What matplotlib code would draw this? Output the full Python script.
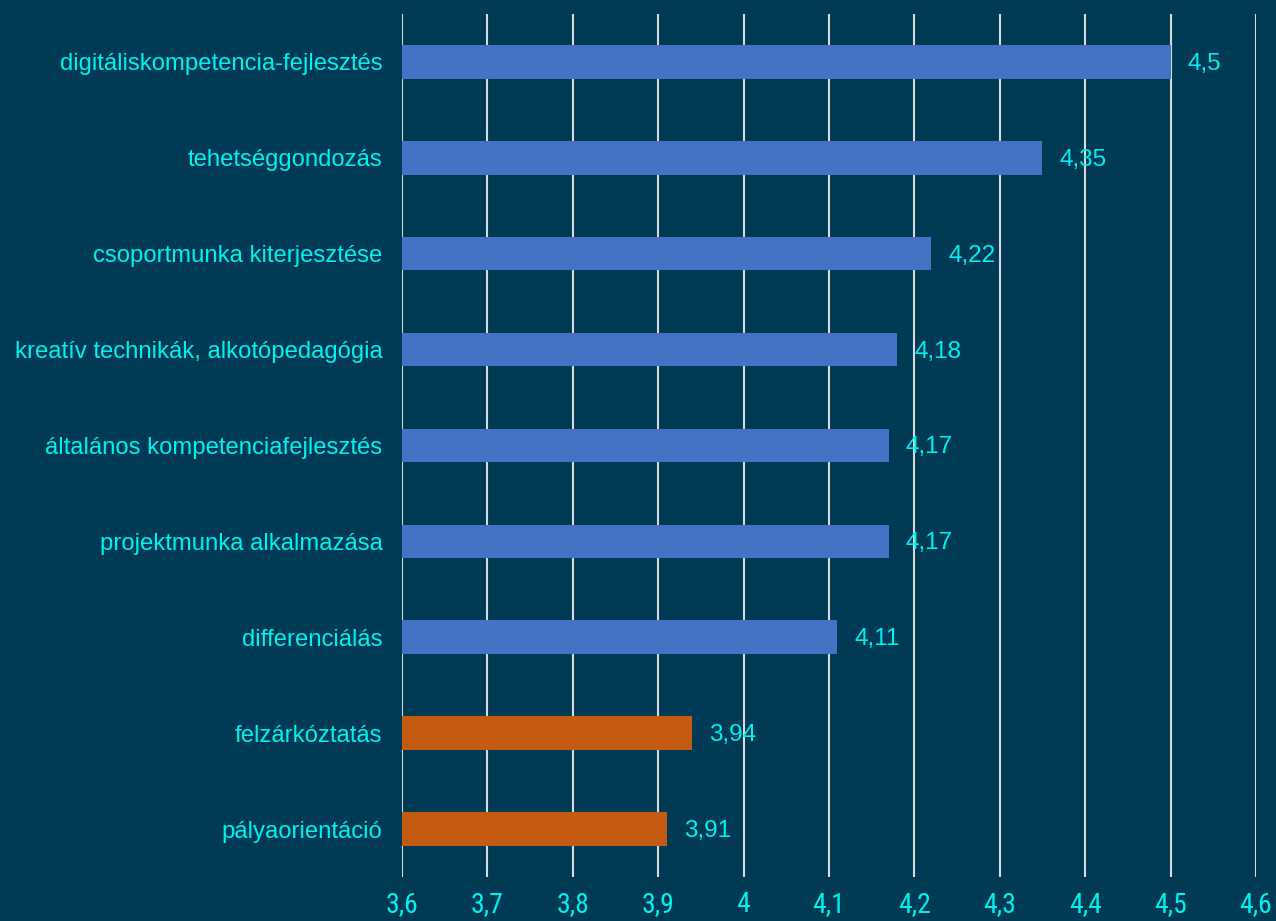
import matplotlib.pyplot as plt
from matplotlib.ticker import FuncFormatter

categories = [
    "digitáliskompetencia-fejlesztés",
    "tehetséggondozás",
    "csoportmunka kiterjesztése",
    "kreatív technikák, alkotópedagógia",
    "általános kompetenciafejlesztés",
    "projektmunka alkalmazása",
    "differenciálás",
    "felzárkóztatás",
    "pályaorientáció",
]
values = [4.5, 4.35, 4.22, 4.18, 4.17, 4.17, 4.11, 3.94, 3.91]
bar_colors = ["#4472C4"] * 7 + ["#C55A11"] * 2
x_ticks = [3.6, 3.7, 3.8, 3.9, 4.0, 4.1, 4.2, 4.3, 4.4, 4.5, 4.6]

BG = "#003A55"
CYAN = "#00F0F0"

plt.rcParams["font.family"] = ["Liberation Sans", "DejaVu Sans"]


def hu(v, _=None):
    s = f"{v:g}"
    return s.replace(".", ",")


fig = plt.figure(figsize=(12.76, 9.21), dpi=100, facecolor=BG)
ax = fig.add_axes([0.3150, 0.0478, 0.6693, 0.9370])
ax.set_facecolor(BG)

ypos = list(range(len(categories)))
ax.barh(ypos, [v - 3.6 for v in values], left=3.6, height=0.35,
        color=bar_colors, zorder=3)

for y, v in zip(ypos, values):
    ax.annotate(hu(v), (v, y), xytext=(17, -2), textcoords="offset pixels",
                ha="left", va="center", fontsize=17.5, color=CYAN, zorder=4)

ax.set_xlim(3.6, 4.6)
ax.set_ylim(len(categories) - 0.5, -0.5)
ax.set_yticks(ypos)
ax.set_yticklabels(categories)
ax.set_xticks(x_ticks)
ax.xaxis.set_major_formatter(FuncFormatter(hu))
ax.grid(axis="x", color="#D9D9D9", linewidth=1.5, zorder=1)
ax.tick_params(axis="y", length=0, pad=14, labelsize=17.2, labelcolor=CYAN)
ax.tick_params(axis="x", length=0, pad=10, labelsize=20, labelcolor=CYAN)
for lbl in ax.get_xticklabels():
    lbl.set_family(["Roboto Condensed", "Liberation Sans"])
    lbl.set_fontweight("normal")
for sp in ax.spines.values():
    sp.set_visible(False)

fig.savefig("out.png", dpi=100, facecolor=BG)
